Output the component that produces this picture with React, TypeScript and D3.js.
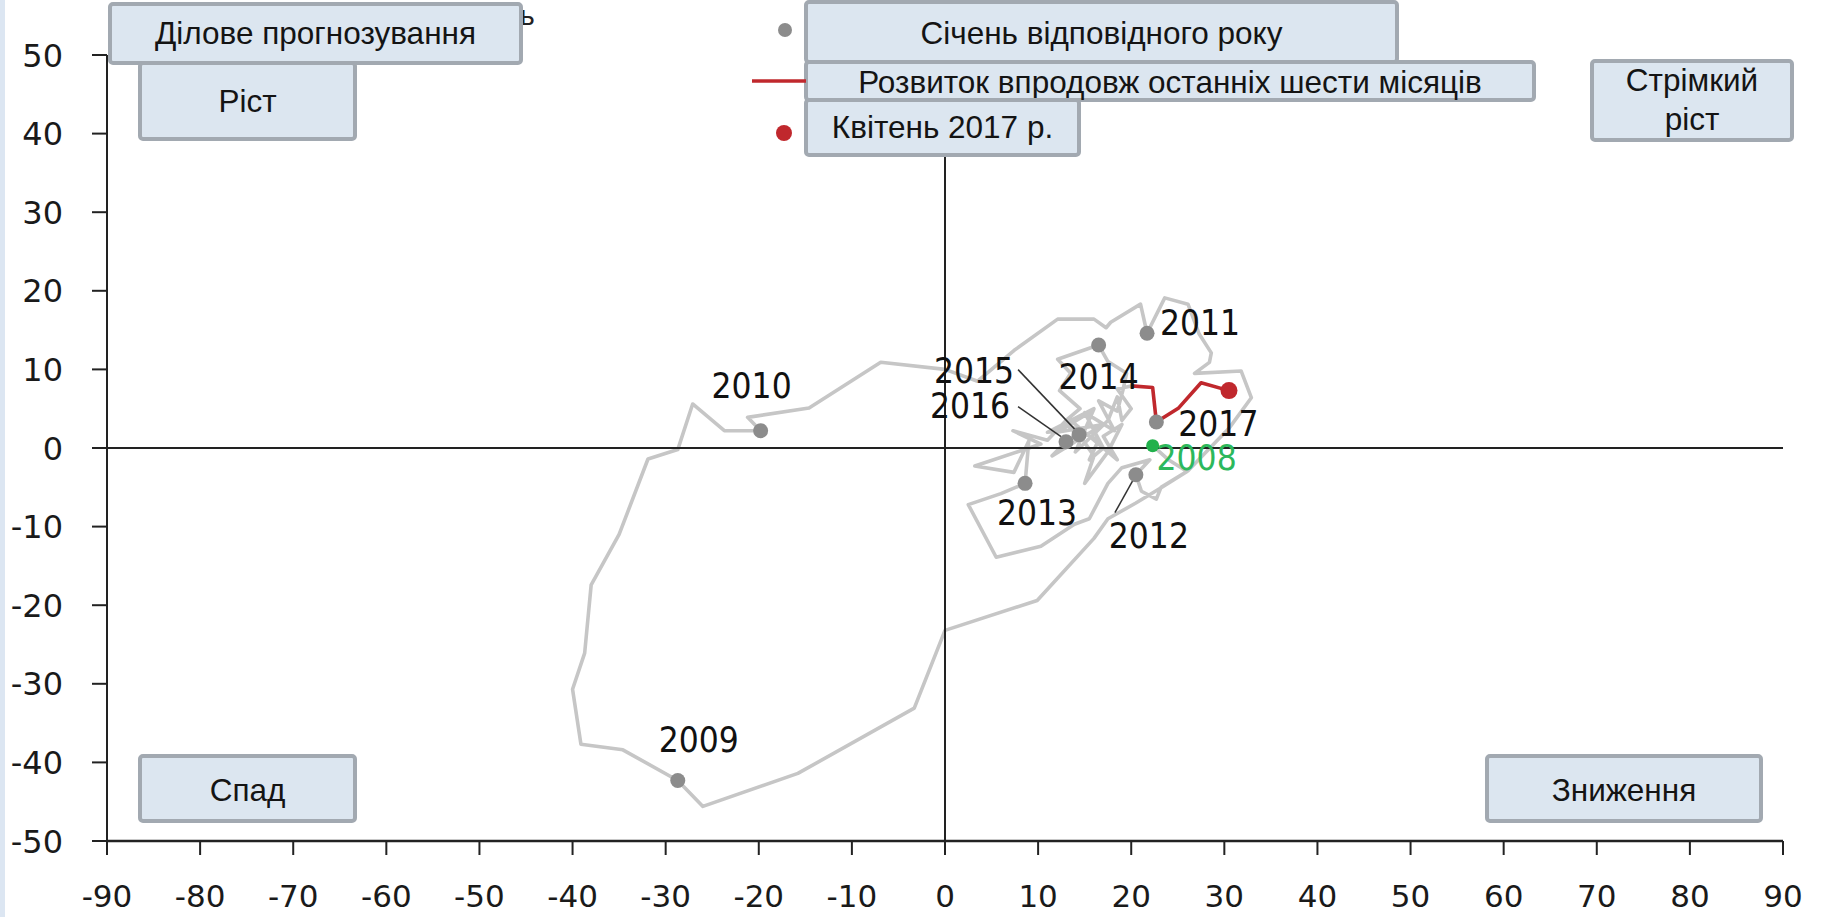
import React from 'react';
import * as d3 from 'd3';

const W = 1825;
const H = 917;

// ---- axis ticks ----
const xTicks: number[] = [-90, -80, -70, -60, -50, -40, -30, -20, -10, 0, 10, 20, 30, 40, 50, 60, 70, 80, 90];
const yTicks: number[] = [-50, -40, -30, -20, -10, 0, 10, 20, 30, 40, 50];

// ---- trajectory (x = business situation, y = business expectations) ----
const path2008: [number, number][] = [[22.3, 0.3], [24.0, -1.5], [26.0, -3.0], [23.3, -5.0], [20.5, -7.0], [17.5, -9.0], [16.0, -11.5], [9.9, -19.4], [0.0, -23.2], [-3.3, -33.1], [-15.8, -41.4], [-26.0, -45.6]];
const path2009: [number, number][] = [[-28.7, -42.3], [-34.6, -38.4], [-39.1, -37.7], [-40.0, -30.7], [-38.7, -26.1], [-38.0, -17.4], [-35.0, -11.0], [-31.9, -1.4], [-28.7, -0.2], [-27.1, 5.6], [-23.7, 2.2]];
const path2010: [number, number][] = [[-19.8, 2.2], [-21.2, 3.9], [-14.6, 5.1], [-6.9, 10.9], [0.0, 10.0], [3.5, 8.5], [7.4, 12.4], [12.1, 16.4], [16.0, 16.4], [17.3, 15.3], [17.8, 16.0], [21.0, 18.3]];
const path2011: [number, number][] = [[21.7, 14.6], [23.6, 19.1], [26.1, 18.3], [27.3, 14.5], [28.6, 12.1], [28.4, 10.9], [26.8, 9.5], [31.8, 9.8], [32.9, 6.4], [30.5, 2.5], [26.1, -2.9], [23.2, -5.0], [22.7, -6.5], [21.1, -5.5]];
const path2012: [number, number][] = [[20.5, -3.4], [22.0, -1.5], [19.0, -2.5], [17.5, -4.5], [15.5, -9.0], [13.9, -9.7], [10.3, -12.5], [5.5, -13.9], [2.5, -7.2], [6.0, -5.8]];
const path2013: [number, number][] = [[8.6, -4.5], [9.0, 0.9], [7.4, -3.1], [3.2, -2.3], [10.3, 0.5], [7.3, 2.2], [11.0, 1.0], [13.0, 3.5], [14.5, 5.0], [12.3, 7.3], [13.5, 9.5], [12.1, 11.3]];
const path2014: [number, number][] = [[16.5, 13.1], [17.5, 11.0], [19.5, 9.5], [19.1, 7.3], [18.5, 4.7], [16.5, 6.0], [18.2, 2.2], [15.0, 4.5], [17.0, 0.0], [15.5, -1.5], [16.5, 1.0], [13.0, 3.0]];
const path2015: [number, number][] = [[14.4, 1.7], [16.0, -1.0], [15.0, -4.5], [17.5, -0.5], [19.0, 3.0], [17.0, 1.5], [18.5, -1.5], [13.5, 3.5], [15.5, 4.5], [12.0, 2.0], [17.0, 3.0], [11.5, -1.0]];
const path2016: [number, number][] = [[13.0, 0.8], [15.0, 2.5], [11.0, 2.0], [16.0, 5.0], [14.0, -0.5], [17.5, 3.5], [18.5, 6.5], [19.0, 3.5], [20.0, 5.0], [18.5, 7.5]];

// last six months (Nov 2016 – Apr 2017)
const lastSix: [number, number][] = [[20.0, 7.9], [22.3, 7.7], [22.7, 3.3], [25.1, 5.1], [27.5, 8.3], [30.5, 7.3]];

// January points
const janYears: string[] = ['2008', '2009', '2010', '2011', '2012', '2013', '2014', '2015', '2016', '2017'];
const janX: number[] = [22.3, -28.7, -19.8, 21.7, 20.5, 8.6, 16.5, 14.4, 13.0, 22.7];
const janY: number[] = [0.3, -42.3, 2.2, 14.6, -3.4, -4.5, 13.1, 1.7, 0.8, 3.3];

// label placement relative to each January dot (pixels): [dx, dy]
const labelOffset: Record<string, [number, number]> = {
  '2008': [44, 24], '2009': [21, -28], '2010': [-9, -33], '2011': [53, 2], '2012': [13, 73],
  '2013': [12, 42], '2014': [0, 44], '2015': [-105, -52], '2016': [-96, -24], '2017': [62, 14],
};
const leaderLines: Record<string, [number, number, number, number]> = {
  '2015': [-61, -65, -3, -4], '2016': [-48, -35, -5, -5], '2012': [-21, 38, -2, 4],
};

const BOX_FILL = '#dce6f0';
const BOX_STROKE = '#a2a9b1';
const GRAY = '#8c8c8c';
const RED = '#c0282d';
const GREEN = '#22b14c';
const BOX_FONT = "'Liberation Sans', Arial, sans-serif";
const NUM_FONT = "'DejaVu Sans', Verdana, sans-serif";
const YEAR_FONT = "'DejaVu Sans Condensed', 'DejaVu Sans', Verdana, sans-serif";

function Box(props: { x0: number; y0: number; x1: number; y1: number; lines: string[]; baselines: number[] }) {
  const { x0, y0, x1, y1, lines, baselines } = props;
  return (
    <g>
      <rect x={x0} y={y0} width={x1 - x0} height={y1 - y0} rx={3} ry={3} fill={BOX_FILL} stroke={BOX_STROKE} strokeWidth={4} />
      {lines.map((t, i) => (
        <text key={i} x={(x0 + x1) / 2} y={baselines[i]} textAnchor="middle" fontFamily={BOX_FONT} fontSize={31.5} fill="#141414">{t}</text>
      ))}
    </g>
  );
}

export default function App() {
  const x = d3.scaleLinear().domain([-90, 90]).range([107, 1783]);
  const y = d3.scaleLinear().domain([-50, 50]).range([841, 55]);
  const line = d3.line<[number, number]>().x(d => x(d[0])).y(d => y(d[1]));

  const grayPath: [number, number][] = [
    ...path2008, ...path2009, ...path2010, ...path2011, ...path2012,
    ...path2013, ...path2014, ...path2015, ...path2016, lastSix[0],
  ];

  const last = lastSix[lastSix.length - 1];

  return (
    <svg width={W} height={H} style={{ position: 'absolute', left: 0, top: 0, background: '#fff' }}>
      <rect x={0} y={0} width={W} height={H} fill="#ffffff" />
      <rect x={0} y={0} width={5} height={H} fill="#dce6f2" />

      {/* gray trajectory */}
      <path d={line(grayPath) || ''} fill="none" stroke="#c6c6c6" strokeWidth={3.6} strokeLinejoin="round" />

      {/* axes */}
      <line x1={x(-90)} x2={x(-90)} y1={y(50)} y2={y(-50)} stroke="#222" strokeWidth={2} />
      <line x1={x(-90)} x2={x(90)} y1={y(-50)} y2={y(-50)} stroke="#222" strokeWidth={2.5} />
      <line x1={x(-90)} x2={x(90)} y1={y(0)} y2={y(0)} stroke="#222" strokeWidth={2} />
      <line x1={x(0)} x2={x(0)} y1={y(50)} y2={y(-50)} stroke="#222" strokeWidth={2} />
      {yTicks.map(t => (
        <g key={'y' + t}>
          <line x1={x(-90) - 15} x2={x(-90)} y1={y(t)} y2={y(t)} stroke="#222" strokeWidth={2} />
          <text x={63} y={y(t)} dy="0.36em" textAnchor="end" fontFamily={NUM_FONT} fontSize={32} fill="#1a1a1a">{t}</text>
        </g>
      ))}
      {xTicks.map(t => (
        <g key={'x' + t}>
          <line x1={x(t)} x2={x(t)} y1={y(-50)} y2={y(-50) + 14} stroke="#222" strokeWidth={2} />
          <text x={x(t)} y={907} textAnchor="middle" fontFamily={NUM_FONT} fontSize={31} fill="#1a1a1a">{t}</text>
        </g>
      ))}

      {/* last six months */}
      <path d={line(lastSix) || ''} fill="none" stroke={RED} strokeWidth={3.6} strokeLinejoin="round" />

      {/* leader lines */}
      {Object.keys(leaderLines).map(k => {
        const i = janYears.indexOf(k);
        const [ax, ay, bx, by] = leaderLines[k];
        const cx = x(janX[i]);
        const cy = y(janY[i]);
        return <line key={'l' + k} x1={cx + ax} y1={cy + ay} x2={cx + bx} y2={cy + by} stroke="#333" strokeWidth={1.5} />;
      })}

      {/* january dots */}
      {janYears.map((yr, i) => (
        <circle key={'d' + yr} cx={x(janX[i])} cy={y(janY[i])} r={yr === '2008' ? 6.5 : 7.5} fill={yr === '2008' ? GREEN : GRAY} />
      ))}
      <circle cx={x(last[0])} cy={y(last[1])} r={8.5} fill={RED} />

      {/* year labels */}
      {janYears.map((yr, i) => {
        const [dx, dy] = labelOffset[yr];
        return (
          <text key={'t' + yr} x={x(janX[i]) + dx} y={y(janY[i]) + dy} textAnchor="middle" fontFamily={YEAR_FONT} fontSize={35}
            fill={yr === '2008' ? '#2cb85c' : '#111'}>{yr}</text>
        );
      })}

      {/* partially hidden title glyph */}
      <text x={535} y={25} textAnchor="end" fontFamily={NUM_FONT} fontSize={26} fill="#222">ь</text>

      {/* boxes */}
      <Box x0={110} y0={4} x1={521} y1={63} lines={['Ділове прогнозування']} baselines={[44]} />
      <Box x0={140} y0={63} x1={355} y1={139} lines={['Ріст']} baselines={[112]} />
      <Box x0={806} y0={2} x1={1397} y1={62} lines={['Січень відповідного року']} baselines={[44]} />
      <Box x0={806} y0={62} x1={1534} y1={100} lines={['Розвиток впродовж останніх шести місяців']} baselines={[93]} />
      <Box x0={806} y0={100} x1={1079} y1={155} lines={['Квітень 2017 р.']} baselines={[138]} />
      <Box x0={1592} y0={61} x1={1792} y1={140} lines={['Стрімкий', 'ріст']} baselines={[91, 130]} />
      <Box x0={140} y0={756} x1={355} y1={821} lines={['Спад']} baselines={[801]} />
      <Box x0={1487} y0={756} x1={1761} y1={821} lines={['Зниження']} baselines={[801]} />

      {/* legend markers */}
      <circle cx={785} cy={30} r={7} fill={GRAY} />
      <line x1={752} x2={806} y1={81} y2={81} stroke={RED} strokeWidth={3.5} />
      <circle cx={784} cy={133} r={8} fill={RED} />
    </svg>
  );
}
